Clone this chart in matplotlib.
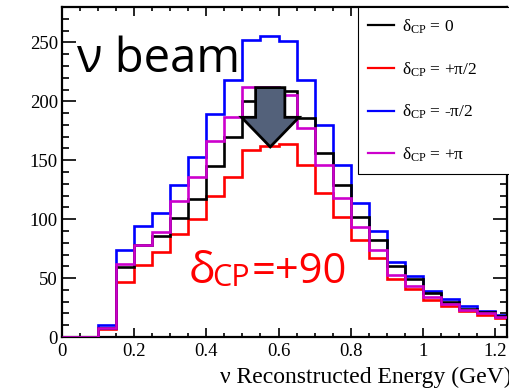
import matplotlib
matplotlib.use('Agg')
from matplotlib import pyplot as plt
from matplotlib.ticker import MultipleLocator
import numpy as np

# bin edges (GeV), 0.05 wide
edges = np.round(np.arange(0, 1.2501, 0.05), 2)

# event counts per bin
cp_0 = [0, 0, 8, 59, 78, 86, 101, 117, 145, 170, 200, 207, 209, 186, 156, 129, 102, 82, 60, 49, 37, 30, 24, 21, 18]
cp_plus_half_pi = [0, 0, 7, 47, 61, 72, 87, 100, 120, 136, 159, 162, 164, 146, 122, 102, 82, 67, 49, 41, 31, 26, 22, 19, 16]
cp_minus_half_pi = [0, 0, 10, 74, 94, 105, 129, 153, 189, 218, 252, 255, 251, 218, 180, 146, 114, 90, 64, 52, 39, 32, 26, 22, 19]
cp_pi = [0, 0, 8, 62, 78, 89, 115, 136, 166, 187, 212, 212, 205, 177, 146, 118, 93, 74, 53, 43, 34, 28, 23, 20, 17]

labels = [r'$\mathregular{δ_{CP}}$ = 0', r'$\mathregular{δ_{CP}}$ = +π/2',
          r'$\mathregular{δ_{CP}}$ = -π/2', r'$\mathregular{δ_{CP}}$ = +π']

plt.rcParams['font.family'] = ['Liberation Serif', 'DejaVu Serif']
plt.rcParams['mathtext.fontset'] = 'stix'

W, H = 509, 389
fig = plt.figure(figsize=(W / 100, H / 100), dpi=100)
ax = fig.add_axes([62 / W, 1 - 337 / H, (507 - 62) / W, (337 - 7) / H])

lw = 1.9
ax.stairs(cp_minus_half_pi, edges, color='#0000ff', lw=lw, label=labels[2], zorder=2)
ax.stairs(cp_plus_half_pi, edges, color='#ff0000', lw=lw, label=labels[1], zorder=2)
ax.stairs(cp_0, edges, color='black', lw=lw, label=labels[0], zorder=3)
ax.stairs(cp_pi, edges, color='#cc00cc', lw=lw, label=labels[3], zorder=4)

ax.set_xlim(0, 1.233)
ax.set_ylim(0, 280)

ax.xaxis.set_minor_locator(MultipleLocator(0.05))
ax.yaxis.set_major_locator(MultipleLocator(50))
ax.yaxis.set_minor_locator(MultipleLocator(10))
ax.set_xticks([0, 0.2, 0.4, 0.6, 0.8, 1.0, 1.2])
ax.set_xticklabels(['0', '0.2', '0.4', '0.6', '0.8', '1', '1.2'])

ax.tick_params(which='both', direction='in', top=True, right=True, labelsize=13.5, width=1.2)
ax.tick_params(axis='y', which='major', length=10, pad=3)
ax.tick_params(axis='y', which='minor', length=5)
ax.tick_params(axis='x', which='major', length=6.5, pad=4)
ax.tick_params(axis='x', which='minor', length=3.2)
for s in ax.spines.values():
    s.set_linewidth(1.6)

fig.text(512 / W, 1 - 383 / H, 'ν Reconstructed Energy (GeV)', ha='right', va='baseline', fontsize=17)

# arrow
ax.arrow(0.577, 211.6, 0, -50.3, width=0.081, head_width=0.159, head_length=25.1,
         length_includes_head=True, fc='#53617a', ec='black', lw=2, zorder=6)

sans = ['Open Sans', 'DejaVu Sans']
fig.text(77 / W, 1 - 72 / H, 'ν beam', family=sans, fontsize=34, va='baseline', zorder=10)
fig.text(189 / W, 1 - 283 / H, 'δ', family=sans, fontsize=32, color='#ff0000', va='baseline')
fig.text(212 / W, 1 - 286 / H, 'CP', family=sans, fontsize=22, color='#ff0000', va='baseline')
fig.text(252 / W, 1 - 283 / H, '=+90', family=sans, fontsize=30, color='#ff0000', va='baseline')

h, l = ax.get_legend_handles_labels()
order = [2, 1, 0, 3]
leg = ax.legend([h[i] for i in order], [l[i] for i in order],
                loc='upper left', bbox_to_anchor=(358 / W, 1 - 173 / H, (560 - 358) / W, (173 - 7) / H),
                bbox_transform=fig.transFigure, mode='expand', fontsize=12.5,
                handlelength=1.5, handletextpad=0.45, labelspacing=1.4,
                borderpad=0.6, borderaxespad=0, fancybox=False, framealpha=1,
                edgecolor='black')
leg.get_frame().set_linewidth(0.8)
for line in leg.get_lines():
    line.set_linewidth(1.6)
leg.set_zorder(20)

plt.savefig('out.png', dpi=100)
